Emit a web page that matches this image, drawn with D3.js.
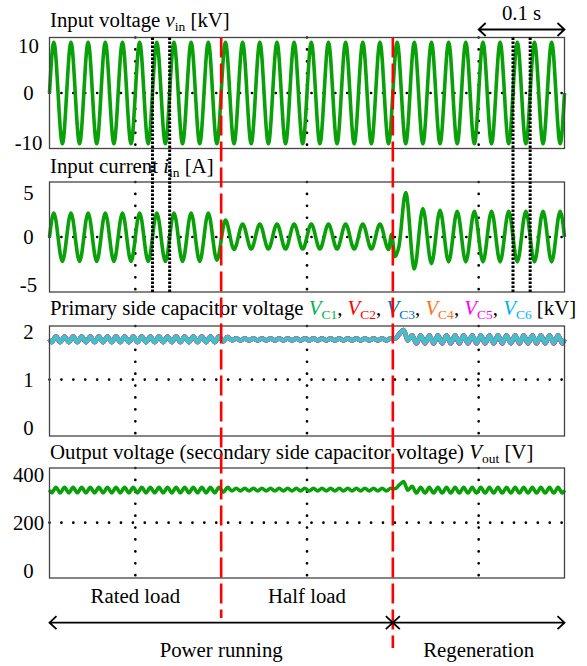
<!DOCTYPE html>
<meta charset="utf-8">
<style>

body { margin: 0; background: #fff; }
svg { font-family: "Liberation Serif", "Times New Roman", serif; }
text { font-size: 20.8px; fill: #000; }
.box { fill: none; stroke: #444; stroke-width: 1.3px; }
.grid { fill: none; stroke: #000; stroke-width: 2.7px; stroke-linecap: round; stroke-dasharray: 0.01 11.9; }
.mark { fill: none; stroke: #000; stroke-width: 3px; stroke-dasharray: 2.4 1.6; }
.red { fill: none; stroke: #f00; stroke-width: 2.6px; stroke-dasharray: 20 6; }
.wave { fill: none; stroke-width: 3.6px; stroke-linejoin: round; }
.arrow { fill: none; stroke: #000; stroke-width: 1.8px; }

</style>
<svg width="587" height="666">
  <rect fill="#fff" width="100%" height="100%"></rect>
</svg>
<script src="https://cdn.jsdelivr.net/npm/d3@7"></script>
<script>

// extrema of each half cycle of the 50 Hz mains (t = 5 ms, 15 ms, ...)
var vinPeaks = [
  10.8, -10.8, 10.8, -10.8, 10.8, -10.8, 10.8, -10.8, 10.8, -10.8, 10.8, -10.8, 10.8, -10.8, 10.8, -10.8, 10.8, -10.8, 10.8, -10.8,
  10.8, -10.8, 10.8, -10.8, 10.8, -10.8, 10.8, -10.8, 10.8, -10.8, 10.8, -10.8, 10.8, -10.8, 10.8, -10.8, 10.8, -10.8, 10.8, -10.8,
  10.8, -10.8, 10.8, -10.8, 10.8, -10.8, 10.8, -10.8, 10.8, -10.8, 10.8, -10.8, 10.8, -10.8, 10.8, -10.8, 10.8, -10.8, 10.8, -10.8
];

var iinPeaks = [
  2.7, -2.75, 2.7, -2.75, 2.7, -2.75, 2.7, -2.75, 2.7, -2.75, 2.7, -2.75, 2.7, -2.75, 2.7, -2.75, 2.7, -2.75, 2.7, -2.6,
  1.9, -1.4, 1.45, -1.35, 1.45, -1.35, 1.45, -1.35, 1.45, -1.35, 1.45, -1.35, 1.45, -1.35, 1.45, -1.35, 1.45, -1.35, 1.45, -1.4,
  null, 5.0, -3.6, 3.2, -3.0, 3.0, -2.8, 2.9, -2.8, 2.9, -2.8, 2.9, -2.8, 2.9, -2.8, 2.9, -2.8, 2.9, -2.8, 2.9
];

// extra points of the current during the change to regeneration [t, A]
var iinStep = [[0.3985, 0.3], [0.4025, -2.2], [0.407, -1.1]];

// extrema of each quarter cycle (100 Hz ripple, t = 2.5 ms, 7.5 ms, ...)
var vcRipple = [
  1.78, 1.90, 1.78, 1.90, 1.78, 1.90, 1.78, 1.90, 1.78, 1.90, 1.78, 1.90, 1.78, 1.90, 1.78, 1.90, 1.78, 1.90, 1.78, 1.90,
  1.78, 1.90, 1.78, 1.90, 1.78, 1.90, 1.78, 1.90, 1.78, 1.90, 1.78, 1.90, 1.78, 1.90, 1.78, 1.90, 1.78, 1.90, 1.78, 1.90,
  1.80, 1.89, 1.82, 1.86, 1.82, 1.86, 1.82, 1.86, 1.82, 1.86, 1.82, 1.86, 1.82, 1.86, 1.82, 1.86, 1.82, 1.86, 1.82, 1.86,
  1.82, 1.86, 1.82, 1.86, 1.82, 1.86, 1.82, 1.86, 1.82, 1.86, 1.82, 1.86, 1.82, 1.86, 1.82, 1.86, 1.82, 1.86, 1.82, 1.86,
  1.86, 1.95, 2.04, 1.82, 1.92, 1.76, 1.92, 1.76, 1.92, 1.76, 1.92, 1.76, 1.92, 1.76, 1.92, 1.76, 1.92, 1.76, 1.92, 1.76,
  1.92, 1.76, 1.92, 1.76, 1.92, 1.76, 1.92, 1.76, 1.92, 1.76, 1.92, 1.76, 1.92, 1.76, 1.92, 1.76, 1.92, 1.76, 1.92, 1.76
];

var voutRipple = [
  325, 348, 325, 348, 325, 348, 325, 348, 325, 348, 325, 348, 325, 348, 325, 348, 325, 348, 325, 348,
  325, 348, 325, 348, 325, 348, 325, 348, 325, 348, 325, 348, 325, 348, 325, 348, 325, 348, 325, 348,
  328, 348, 333, 344, 333, 344, 333, 344, 333, 344, 333, 344, 333, 344, 333, 344, 333, 344, 333, 344,
  333, 344, 333, 344, 333, 344, 333, 344, 333, 344, 333, 344, 333, 344, 333, 344, 333, 344, 333, 344,
  342, 358, 372, 336, 352, 324, 348, 324, 348, 324, 348, 324, 348, 324, 348, 324, 348, 324, 348, 324,
  348, 324, 348, 324, 348, 324, 348, 324, 348, 324, 348, 324, 348, 324, 348, 324, 348, 324, 348, 324
];

var vcNames = ["C1", "C2", "C3", "C4", "C5", "C6"];
var vcColors = ["#00b050", "#ff0000", "#0070c0", "#ff7020", "#e040e0", "#3cc3c8"];
var vcLabelColors = ["#00b050", "#ff0000", "#0070c0", "#ff7020", "#ff00ff", "#00b0f0"];

var vinTicks = [10, 0, -10],
    iinTicks = [5, 0, -5],
    vcTicks = [2, 1, 0],
    voutTicks = [400, 200, 0];

var gridTimes = [0.1, 0.3, 0.5],
    markerTimes = [0.12, 0.14, 0.54, 0.56],
    eventTimes = [0.2, 0.4];

var halfCycle = 0.01, quarterCycle = 0.005;

var svg = d3.select("svg");
var x = d3.scaleLinear().domain([0, 0.6]).range([49.5, 564.5]);
var green = "#0aa00a";

function points(vals, step, start, end, extra) {
  var p = [[0, start]];
  vals.forEach(function(v, i) { if (v != null) p.push([(i + 0.5) * step, v]); });
  (extra || []).forEach(function(d) { p.push(d); });
  p.push([0.6, end]);
  return p.sort(function(a, b) { return a[0] - b[0]; });
}

var panels = [
  {top: 37.5, bottom: 148.5, domain: [-11.8, 11.8], ticks: vinTicks, ref: 0, ty: 27,
   title: [{t: "Input voltage "}, {t: "v", i: 1}, {t: "in", sub: 1}, {t: " [kV]"}],
   series: [{pts: points(vinPeaks, halfCycle, 0, 0), color: green}]},
  {top: 182, bottom: 292, domain: [-6.18, 6.18], ticks: iinTicks, ref: 0, ty: 173,
   title: [{t: "Input current "}, {t: "i", i: 1}, {t: "in", sub: 1}, {t: " [A]"}],
   series: [{pts: points(iinPeaks, halfCycle, 0, 0, iinStep), color: green}]},
  {top: 326, bottom: 436, domain: [-0.18, 2.12], ticks: vcTicks, ref: 1, ty: 315,
   title: [{t: "Primary side capacitor voltage "}].concat(
     [].concat.apply([], vcNames.map(function(n, k) {
       return [{t: "V", i: 1, c: vcLabelColors[k]}, {t: n, sub: 1, c: vcLabelColors[k]}, {t: k < 5 ? ", " : " [kV]"}];
     }))),
   series: vcNames.map(function(n, k) {
     return {pts: points(vcRipple, quarterCycle, 1.84, 1.84), color: vcColors[k], w: k < 5 ? 4.4 : 3.9};
   })},
  {top: 468, bottom: 578, domain: [-32, 429], ticks: voutTicks, ref: 200, ty: 458.5,
   title: [{t: "Output voltage (secondary side capacitor voltage) "}, {t: "V", i: 1}, {t: "out", sub: 1}, {t: " [V]"}],
   series: [{pts: points(voutRipple, quarterCycle, 337, 336), color: green}]}
];

panels.forEach(function(p) {
  var y = d3.scaleLinear().domain(p.domain).range([p.bottom, p.top]);
  var g = svg.append("g");

  // title with italic symbol and subscript
  var txt = g.append("text").attr("x", 50).attr("y", p.ty);
  var inSub = false;
  p.title.forEach(function(part) {
    var ts = txt.append("tspan").text(part.t);
    if (part.i) ts.style("font-style", "italic");
    if (part.c) ts.style("fill", part.c);
    if (part.sub) { ts.attr("dy", 4).style("font-size", "13.5px"); inSub = true; }
    else if (inSub) { ts.attr("dy", -4); inSub = false; }
  });

  g.selectAll(".tick").data(p.ticks).enter().append("text")
      .attr("x", 28.5)
      .attr("y", function(d) { return y(d) + (d < 0 ? 3 : 0); })
      .attr("dy", "0.35em")
      .attr("text-anchor", "middle")
      .text(function(d) { return d; });

  g.append("line").attr("class", "grid")
      .attr("x1", x(0)).attr("x2", x(0.6))
      .attr("y1", y(p.ref)).attr("y2", y(p.ref));

  g.selectAll(".vgrid").data(gridTimes).enter().append("line").attr("class", "grid")
      .attr("x1", x).attr("x2", x)
      .attr("y1", p.top).attr("y2", p.bottom);

  var line = d3.line()
      .x(function(d) { return x(d[0]); })
      .y(function(d) { return y(d[1]); })
      .curve(d3.curveMonotoneX);

  p.series.forEach(function(s) {
    g.append("path").attr("class", "wave")
        .attr("d", line(s.pts))
        .style("stroke", s.color)
        .style("stroke-width", s.w || 3.6);
  });

  g.append("rect").attr("class", "box")
      .attr("x", x(0)).attr("y", p.top)
      .attr("width", x(0.6) - x(0)).attr("height", p.bottom - p.top);
});

// measurement markers across the voltage and current panels
svg.selectAll(".mark").data(markerTimes).enter().append("line").attr("class", "mark")
    .attr("x1", x).attr("x2", x)
    .attr("y1", panels[0].top).attr("y2", panels[1].bottom);

// load change and regeneration start
svg.selectAll(".red").data(eventTimes).enter().append("line").attr("class", "red")
    .attr("x1", x).attr("x2", x)
    .attr("y1", panels[0].top)
    .attr("y2", function(d, i) { return i ? 648 : 618; });

function head(xt, yt, dir) {
  return "M" + (xt - dir * 7) + "," + (yt - 6.5) + "L" + xt + "," + yt + "L" + (xt - dir * 7) + "," + (yt + 6.5);
}

// 0.1 s scale bar
svg.append("path").attr("class", "arrow")
    .attr("d", "M" + x(0.5) + ",29.5H" + x(0.6) + head(x(0.5), 29.5, -1) + head(x(0.6), 29.5, 1));
svg.append("text").attr("x", (x(0.5) + x(0.6)) / 2).attr("y", 20)
    .attr("text-anchor", "middle").text("0.1 s");

// operating mode arrows
var ay = 622.7;
svg.append("path").attr("class", "arrow")
    .attr("d", "M" + x(0) + "," + ay + "H" + x(0.6) +
      head(x(0), ay, -1) + head(x(0.4), ay, 1) + head(x(0.4), ay, -1) + head(x(0.6), ay, 1));

svg.append("text").attr("x", x(0.1)).attr("y", 603).attr("text-anchor", "middle").text("Rated load");
svg.append("text").attr("x", x(0.3)).attr("y", 603).attr("text-anchor", "middle").text("Half load");
svg.append("text").attr("x", x(0.2)).attr("y", 657).attr("text-anchor", "middle").text("Power running");
svg.append("text").attr("x", x(0.5)).attr("y", 657).attr("text-anchor", "middle").text("Regeneration");

</script>
